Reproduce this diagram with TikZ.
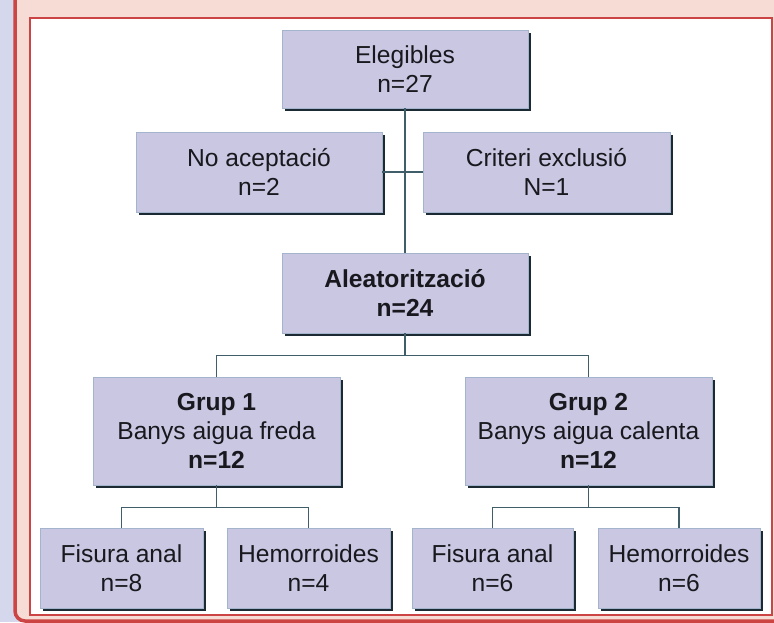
\documentclass[tikz,border=0pt]{standalone}
\usepackage{fontspec}
\setmainfont{Liberation Sans}
\usetikzlibrary{shadows}
\definecolor{lavbg}{HTML}{D5D7EC}
\definecolor{pinkbg}{HTML}{F6DCD5}
\definecolor{redc}{HTML}{CC4444}
\definecolor{boxc}{HTML}{C9C7E1}
\definecolor{boxline}{HTML}{A4B4CC}
\definecolor{shadowc}{HTML}{1C2A33}
\definecolor{connc}{HTML}{3F5E6A}
\definecolor{textc}{HTML}{18181E}
\tikzset{
  fbox/.style={rectangle, fill=boxc, draw=boxline, line width=0.6pt, inner sep=0pt,
    align=center, text=textc, font=\fontsize{24.6}{28.8}\selectfont,
    general shadow={fill=shadowc, shadow xshift=2.8pt, shadow yshift=-2.8pt}},
  conn/.style={draw=connc, line width=1.4pt}
}
\begin{document}
\begin{tikzpicture}[x=1pt,y=-1pt]
\useasboundingbox (0,0) rectangle (774,622);
\fill[lavbg] (0,0) rectangle (774,622);
\draw[redc, line width=3.5pt, fill=pinkbg, rounded corners=10pt] (15,-20) rectangle (800,621);
\draw[redc, line width=2pt, fill=white] (30,18) rectangle (772,615);

\node[fbox, minimum width=246pt, minimum height=78pt] (eleg) at (405,69) {Elegibles\\n=27};
\node[fbox, minimum width=246pt, minimum height=80pt] (noac) at (259,172) {No aceptació\\n=2};
\node[fbox, minimum width=247pt, minimum height=80pt] (crit) at (546.5,172) {Criteri exclusió\\N=1};
\node[fbox, minimum width=246pt, minimum height=80pt] (aleat) at (405,293) {\textbf{Aleatorització}\\\textbf{n=24}};
\node[fbox, minimum width=247pt, minimum height=108pt] (g1) at (216.5,431) {\textbf{Grup 1}\\Banys aigua freda\\\textbf{n=12}};
\node[fbox, minimum width=247pt, minimum height=108pt] (g2) at (588.5,431) {\textbf{Grup 2}\\Banys aigua calenta\\\textbf{n=12}};
\node[fbox, minimum width=163pt, minimum height=80pt] (f1) at (121.5,568) {Fisura anal\\n=8};
\node[fbox, minimum width=163pt, minimum height=80pt] (h1) at (308.5,568) {Hemorroides\\n=4};
\node[fbox, minimum width=161pt, minimum height=80pt] (f2) at (492.5,568) {Fisura anal\\n=6};
\node[fbox, minimum width=162pt, minimum height=80pt] (h2) at (679,568) {Hemorroides\\n=6};

\draw[conn] (eleg.south) -- (aleat.north);
\draw[conn] (noac.east) -- (crit.west);
\draw[conn] (aleat.south) -- ++(0,22) coordinate (ja);
\draw[conn] (g1.north) |- (ja) -| (g2.north);
\draw[conn] (g1.south) -- ++(0,22) coordinate (jb);
\draw[conn] (f1.north) |- (jb) -| (h1.north);
\draw[conn] (g2.south) -- ++(0,22) coordinate (jc);
\draw[conn] (f2.north) |- (jc) -| (h2.north);
\end{tikzpicture}
\end{document}
